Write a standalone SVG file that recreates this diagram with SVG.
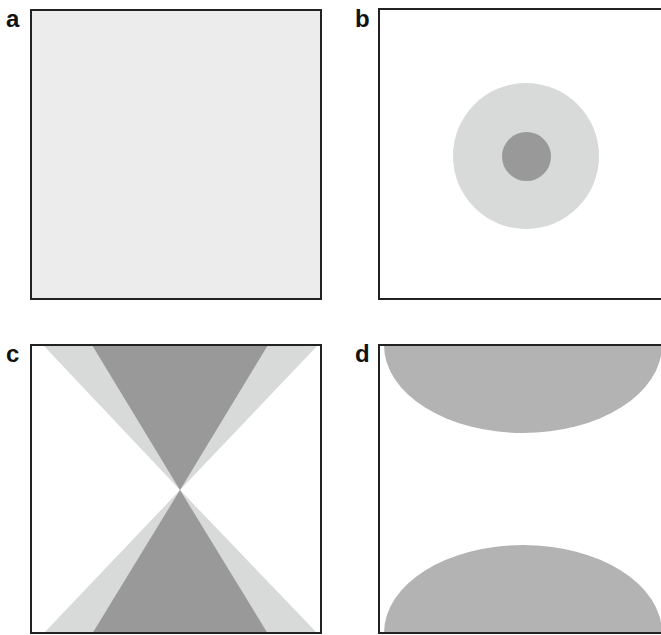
<svg xmlns="http://www.w3.org/2000/svg" width="661" height="635" viewBox="0 0 661 635">
<style>
.frame{fill:none;stroke:#222;stroke-width:2}
.lbl{font-family:"Liberation Sans",Arial,sans-serif;font-weight:bold;font-size:24px;fill:#111}
.light{fill:#d8d9d9}
.dark{fill:#999999}
.mid{fill:#b2b3b2}
</style>
<rect width="661" height="635" fill="#fff"/>
<g id="panel-a">
<rect x="31" y="10" width="290" height="289" fill="#ececec"/>
<rect class="frame" x="31" y="10" width="290" height="289"/>
<text class="lbl" x="6" y="27">a</text>
</g>
<g id="panel-b">
<circle class="light" cx="526" cy="156" r="73"/>
<circle class="dark" cx="526.5" cy="156.5" r="24.5"/>
<rect class="frame" x="379" y="9" width="300" height="290"/>
<text class="lbl" x="355" y="27">b</text>
</g>
<g id="panel-c">
<polygon class="light" points="43,345 318,345 180,490"/>
<polygon class="light" points="43,634 318,634 180,490"/>
<polygon class="dark" points="92,345 268,345 180,490"/>
<polygon class="dark" points="92,634 268,634 180,490"/>
<rect class="frame" x="31" y="345" width="290" height="288"/>
<text class="lbl" x="6" y="362">c</text>
</g>
<g id="panel-d">
<path class="mid" d="M384,345 A139,88 0 0 0 662,345 Z"/>
<path class="mid" d="M384,633 A139,88 0 0 1 662,633 Z"/>
<rect class="frame" x="379" y="345" width="300" height="288"/>
<text class="lbl" x="355" y="362">d</text>
</g>
<g id="connectors"/>
</svg>
